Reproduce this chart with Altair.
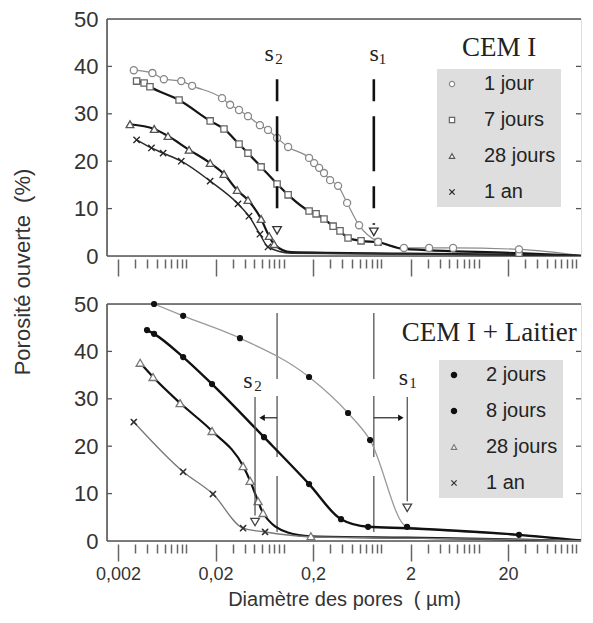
import altair as alt
import pandas as pd

# ---------------- axes ----------------
x_domain = [0.00154, 112]
y_domain = [0, 50]
major_ticks = [0.002, 0.02, 0.2, 2, 20]
major_labels = ["0,002", "0,02", "0,2", "2", "20"]
minor_ticks = [0.003, 0.004, 0.005, 0.006, 0.007, 0.008, 0.009, 0.01,
               0.03, 0.04, 0.05, 0.06, 0.07, 0.08, 0.09, 0.1,
               0.3, 0.4, 0.5, 0.6, 0.7, 0.8, 0.9, 1,
               3, 4, 5, 6, 7, 8, 9, 10,
               30, 40, 50, 60, 70, 80, 90, 100]
y_ticks = [0, 10, 20, 30, 40, 50]
inner_ticks = [10, 20, 30, 40]
x_title = "Diamètre des pores\u00a0 ( µm)"
y_title = "Porosité ouverte\u00a0 (%)"

# ---------------- CEM I (top panel) ----------------
top_names = ["1 jour", "7 jours", "28 jours", "1 an"]
t1j_d = [0.0029, 0.0045, 0.0059, 0.0089, 0.0115, 0.0233, 0.0282, 0.0348, 0.043, 0.057, 0.069,
         0.0855, 0.111, 0.182, 0.205, 0.231, 0.259, 0.299, 0.361, 0.447, 0.593, 0.929,
         1.71, 3.1, 5.46, 25.9]
t1j_p = [39.2, 38.6, 37.3, 36.9, 35.9, 33.3, 31.9, 30.8, 29.5, 27.6, 26.6,
         24.9, 23.0, 20.7, 19.6, 18.6, 17.5, 16.0, 14.8, 11.2, 6.5, 3.0,
         1.7, 1.7, 1.7, 1.4]
t1j_tail_d = [112]
t1j_tail_p = [0.1]
t7j_d = [0.0031, 0.0037, 0.00425, 0.00845, 0.0176, 0.0244, 0.0348, 0.043, 0.0586, 0.0855,
         0.111, 0.182, 0.215, 0.259, 0.321, 0.378, 0.457, 0.621, 0.929, 25.9]
t7j_p = [36.9, 36.5, 35.7, 32.9, 28.5, 26.8, 23.6, 21.7, 18.8, 15.2,
         12.9, 9.5, 8.9, 7.8, 6.3, 5.3, 3.8, 3.2, 2.9, 0.6]
t7j_tail_d = [1.71, 112]
t7j_tail_p = [1.5, 0.05]
t28_d = [0.00265, 0.0047, 0.0065, 0.0107, 0.0176, 0.0244, 0.0333, 0.043, 0.0586, 0.0708, 0.0796]
t28_p = [27.8, 26.8, 25.3, 22.4, 19.6, 17.3, 13.9, 11.8, 7.8, 4.2, 2.5]
t28_tail_d = [0.119, 1.71, 25.9, 112]
t28_tail_p = [0.8, 0.5, 0.3, 0.05]
t1a_d = [0.0031, 0.0044, 0.0058, 0.0089, 0.0176, 0.034, 0.044, 0.057, 0.069]
t1a_p = [24.5, 22.8, 21.7, 20.0, 15.8, 11.0, 8.4, 4.6, 1.9]
t1a_tail_d = [0.119, 1.71, 25.9, 112]
t1a_tail_p = [0.6, 0.4, 0.2, 0.05]

# ---------------- CEM I + Laitier (bottom panel) ----------------
bot_names = ["2 jours", "8 jours", "28 jours", "1 an"]
b2j_d = [0.00468, 0.0093, 0.0356, 0.182, 0.457, 0.769, 1.84]
b2j_p = [50.0, 47.5, 42.8, 34.6, 27.0, 21.3, 3.0]
b2j_tail_d = [25.9, 112]
b2j_tail_p = [1.3, 0.1]
b8j_d = [0.00396, 0.00468, 0.0093, 0.0184, 0.0628, 0.182, 0.387, 0.733, 25.9]
b8j_p = [44.5, 43.7, 38.8, 33.1, 21.9, 12.0, 4.6, 3.0, 1.3]
b8j_tail_d = [1.84, 112]
b8j_tail_p = [2.7, 0.1]
b28_d = [0.00337, 0.00457, 0.00865, 0.0184, 0.0383, 0.0452, 0.0546, 0.0614, 0.19]
b28_p = [37.6, 34.6, 29.1, 23.2, 15.8, 12.7, 8.4, 5.9, 1.0]
b28_tail_d = [0.11, 1.84, 25.9, 112]
b28_tail_p = [1.8, 0.7, 0.3, 0.05]
b1a_d = [0.0029, 0.0093, 0.0188, 0.0383, 0.0644]
b1a_p = [25.1, 14.6, 9.9, 2.7, 1.9]
b1a_tail_d = [0.182, 1.84, 25.9, 112]
b1a_tail_p = [0.9, 0.6, 0.3, 0.05]

# ---------------- annotations ----------------
ts_d = [0.0855, 0.84]          # top: dashed s2, s1
ts_top = [37.3, 37.3]
ts_end = [6.9, 6.6]
ts_tri = [5.4, 5.1]
bref_d = [0.0855, 0.84]        # bottom: former s2, s1 positions
bref_top = [48.1, 48.1]
bref_end = [0.6, 0.6]
bs_d = [0.0508, 1.85]          # bottom: shifted s2, s1
bs_top = [30.4, 30.4]
bs_end = [5.4, 8.4]
bs_tri = [4.0, 7.0]
arr_from = [0.0855, 0.84]      # bottom arrows
arr_to = [0.060, 1.59]
arr_p = [26.0, 26.0]
arr_shape = ["triangle-left", "triangle-right"]

top_s_letter_d = [0.0708, 0.845]
top_s_index_d = [0.0895, 1.03]
top_s_letter_p = [41.1, 41.1]
top_s_index_p = [40.5, 40.5]
top_s_index = ["2", "1"]
bot_s_letter_d = [0.043, 1.69]
bot_s_index_d = [0.0546, 2.12]
bot_s_letter_p = [32.3, 32.9]
bot_s_index_p = [31.6, 32.3]
bot_s_index = ["2", "1"]

top_title = "CEM I"
top_title_d, top_title_p = 16.2, 42.2
bot_title = "CEM I + Laitier"
bot_title_d, bot_title_p = 12.8, 42.2

# ---------------- styles ----------------
W, H = 474, 237
SANS = "Liberation Sans"
SERIF = "Liberation Serif"
CROSS = "M-1,-1L1,1M-1,1L1,-1"
FRAME = "#555"

top_line_color = ["#8a8a8a", "#151515", "#151515", "#2a2a2a"]
top_line_width = [1.2, 2.2, 2.2, 1.5]
top_shapes = ["circle", "square", "triangle-up", CROSS]
top_fill = ["white", "white", "white", "#222"]
top_stroke = ["#888", "#666", "#555", "#222"]
top_size = [50, 40, 60, 40]
top_base_size = 40

bot_line_color = ["#9a9a9a", "#111111", "#111111", "#777777"]
bot_line_width = [1.3, 2.4, 2.2, 1.3]
bot_shapes = ["circle", "circle", "triangle-up", CROSS]
bot_fill = ["#111", "#111", "white", "#333"]
bot_stroke = ["#111", "#111", "#777", "#333"]
bot_size = [24, 24, 65, 40]
bot_base_size = 24


def build(names, marks, tails):
    pts, lines = [], []
    for n, (d, p), (td, tp) in zip(names, marks, tails):
        for a, b in zip(d, p):
            pts.append({"series": n, "d": a, "p": b})
            lines.append({"series": n, "d": a, "p": b})
        for a, b in zip(td, tp):
            lines.append({"series": n, "d": a, "p": b})
    pts = pd.DataFrame(pts)
    lines = pd.DataFrame(lines).sort_values(["series", "d"])
    return pts, lines


top_pts, top_lines = build(
    top_names,
    [(t1j_d, t1j_p), (t7j_d, t7j_p), (t28_d, t28_p), (t1a_d, t1a_p)],
    [(t1j_tail_d, t1j_tail_p), (t7j_tail_d, t7j_tail_p), (t28_tail_d, t28_tail_p), (t1a_tail_d, t1a_tail_p)],
)
bot_pts, bot_lines = build(
    bot_names,
    [(b2j_d, b2j_p), (b8j_d, b8j_p), (b28_d, b28_p), (b1a_d, b1a_p)],
    [(b2j_tail_d, b2j_tail_p), (b8j_tail_d, b8j_tail_p), (b28_tail_d, b28_tail_p), (b1a_tail_d, b1a_tail_p)],
)

major_test = "indexof([" + ",".join(str(v) for v in major_ticks) + "], datum.value) >= 0"
label_expr = " : ".join(f"datum.value == {v} ? '{l}'" for v, l in zip(major_ticks, major_labels)) + " : ''"


def X(field, show_labels):
    kw = dict(values=major_ticks + minor_ticks, grid=False, domain=False, offset=3,
              tickColor="#666", tickWidth=1.5, labelFlush=False,
              tickSize={"condition": {"test": major_test, "value": 17}, "value": 9})
    if show_labels:
        kw.update(labelExpr=label_expr, labelFontSize=18, labelColor="#333", labelFont=SANS,
                  labelPadding=4, title=x_title, titleFontSize=20, titleFont=SANS,
                  titleColor="#333", titleFontWeight="normal", titlePadding=6)
    else:
        kw.update(labels=False, title=None)
    return alt.X(field, type="quantitative", scale=alt.Scale(type="log", domain=x_domain),
                 axis=alt.Axis(**kw))


Y_AXIS = alt.Axis(values=y_ticks, grid=False, domain=False, ticks=False, tickSize=0,
                  labelFontSize=22, labelColor="#333", labelFont=SANS, labelPadding=9, title=None)


def Y(field):
    return alt.Y(field, type="quantitative", scale=alt.Scale(domain=y_domain), axis=Y_AXIS)


def panel(names, pts, lines, lcol, lwid, shapes, fills, strokes, sizes, base_size, legx, legy, labels):
    layers = []
    one = pd.DataFrame({"k": [0]})
    # frame: left, top and bottom sides (right side lies beyond the picture)
    layers.append(alt.Chart(one).mark_rule(color=FRAME, strokeWidth=1.6).encode(
        x=alt.value(0), x2=alt.value(W), y=alt.value(0)))
    layers.append(alt.Chart(one).mark_rule(color=FRAME, strokeWidth=1.6).encode(
        x=alt.value(0), x2=alt.value(W), y=alt.value(H)))
    layers.append(alt.Chart(one).mark_rule(color=FRAME, strokeWidth=1.6).encode(
        x=alt.value(0), y=alt.value(0), y2=alt.value(H)))
    tdf = pd.DataFrame({"p": inner_ticks})
    layers.append(alt.Chart(tdf).mark_rule(color="#555", strokeWidth=1.3).encode(
        y=Y("p"), x=alt.value(0), x2=alt.value(5)))
    layers.append(alt.Chart(tdf).mark_rule(color="#555", strokeWidth=1.3).encode(
        y=Y("p"), x=alt.value(W - 5), x2=alt.value(W)))
    for n, c, w in zip(names, lcol, lwid):
        layers.append(alt.Chart(lines[lines.series == n]).mark_line(
            interpolate="monotone", color=c, strokeWidth=w, clip=True).encode(x=X("d", labels), y=Y("p")))
    leg = alt.Legend(title=None, orient="none", legendX=legx, legendY=legy, fillColor="#dedede",
                     padding=5, labelFontSize=20, labelFont=SANS, labelColor="#222",
                     symbolSize=28, symbolStrokeWidth=1.2, rowPadding=16, labelOffset=22,
                     labelExpr="datum.label + '\u00a0\u00a0'")
    layers.append(alt.Chart(pts).mark_point(filled=True, strokeWidth=1.3, opacity=1, size=base_size).encode(
        x=X("d", labels), y=Y("p"),
        shape=alt.Shape("series:N", scale=alt.Scale(domain=names, range=shapes), legend=leg),
        fill=alt.Fill("series:N", scale=alt.Scale(domain=names, range=fills), legend=leg),
        stroke=alt.Stroke("series:N", scale=alt.Scale(domain=names, range=strokes), legend=leg),
    ))
    for n, sh, f, s, sz in zip(names, shapes, fills, strokes, sizes):
        if sz != base_size:
            layers.append(alt.Chart(pts[pts.series == n]).mark_point(
                shape=sh, filled=True, fill=f, stroke=s, strokeWidth=1.3, size=sz, opacity=1).encode(
                x=X("d", labels), y=Y("p")))
    return layers


def text_layer(df, labels, **style):
    return alt.Chart(df).mark_text(baseline="alphabetic", color="#222", **style).encode(
        x=X("d", labels), y=Y("p"), text="t:N")


# ---------- top panel ----------
top_layers = panel(top_names, top_pts, top_lines, top_line_color, top_line_width,
                   top_shapes, top_fill, top_stroke, top_size, top_base_size, 330, 50, False)
ts_df = pd.DataFrame({"d": ts_d, "p0": ts_top, "p1": ts_end, "pt": ts_tri})
top_layers.append(alt.Chart(ts_df).mark_rule(color="#111", strokeWidth=2.6,
                                             strokeDash=[22, 15, 55, 15]).encode(
    x=X("d", False), y=Y("p0"), y2="p1"))
top_layers.append(alt.Chart(ts_df).mark_point(shape="triangle-down", filled=True, fill="white",
                                              stroke="#333", strokeWidth=1.3, size=75, opacity=1).encode(
    x=X("d", False), y=Y("pt")))
top_layers.append(text_layer(pd.DataFrame({"d": top_s_letter_d, "p": top_s_letter_p, "t": ["s", "s"]}),
                             False, font=SERIF, fontSize=24))
top_layers.append(text_layer(pd.DataFrame({"d": top_s_index_d, "p": top_s_index_p, "t": top_s_index}),
                             False, font=SERIF, fontSize=15))
top_layers.append(text_layer(pd.DataFrame({"d": [top_title_d], "p": [top_title_p], "t": [top_title]}),
                             False, font=SERIF, fontSize=27))
top_layers.append(alt.Chart(pd.DataFrame({"t": [y_title]})).mark_text(
    font=SANS, fontSize=22, color="#333", angle=270, baseline="middle", align="center").encode(
    x=alt.value(-84), y=alt.value(253), text="t:N"))
top = alt.layer(*top_layers).properties(width=W, height=H)

# ---------- bottom panel ----------
bot_layers = panel(bot_names, bot_pts, bot_lines, bot_line_color, bot_line_width,
                   bot_shapes, bot_fill, bot_stroke, bot_size, bot_base_size, 332, 56, True)
bref_df = pd.DataFrame({"d": bref_d, "p0": bref_top, "p1": bref_end})
bot_layers.insert(5, alt.Chart(bref_df).mark_rule(color="#555", strokeWidth=1.3,
                                                  strokeDash=[66, 17, 61, 19, 56, 10]).encode(
    x=X("d", True), y=Y("p0"), y2="p1"))
bs_df = pd.DataFrame({"d": bs_d, "p0": bs_top, "p1": bs_end, "pt": bs_tri})
bot_layers.append(alt.Chart(bs_df).mark_rule(color="#555", strokeWidth=1.3).encode(
    x=X("d", True), y=Y("p0"), y2="p1"))
bot_layers.append(alt.Chart(bs_df).mark_point(shape="triangle-down", filled=True, fill="white",
                                              stroke="#444", strokeWidth=1.3, size=75, opacity=1).encode(
    x=X("d", True), y=Y("pt")))
arr_df = pd.DataFrame({"d0": arr_from, "d1": arr_to, "p": arr_p, "shape": arr_shape})
bot_layers.append(alt.Chart(arr_df).mark_rule(color="#333", strokeWidth=1.3).encode(
    x=X("d0", True), x2="d1", y=Y("p")))
for shp in arr_shape:
    bot_layers.append(alt.Chart(arr_df[arr_df["shape"] == shp]).mark_point(
        shape=shp, filled=True, color="#111", size=40, opacity=1).encode(x=X("d1", True), y=Y("p")))
bot_layers.append(text_layer(pd.DataFrame({"d": bot_s_letter_d, "p": bot_s_letter_p, "t": ["s", "s"]}),
                             True, font=SERIF, fontSize=24))
bot_layers.append(text_layer(pd.DataFrame({"d": bot_s_index_d, "p": bot_s_index_p, "t": bot_s_index}),
                             True, font=SERIF, fontSize=15))
bot_layers.append(text_layer(pd.DataFrame({"d": [bot_title_d], "p": [bot_title_p], "t": [bot_title]}),
                             True, font=SERIF, fontSize=27))
bot = alt.layer(*bot_layers).properties(width=W, height=H)

chart = alt.vconcat(top, bot, spacing=48, bounds="flush").resolve_scale(
    x="independent", y="independent", shape="independent", fill="independent", stroke="independent"
).resolve_axis(x="independent", y="independent").resolve_legend(
    shape="independent", fill="independent", stroke="independent"
).configure_view(strokeWidth=0).configure(
    padding={"left": 3, "top": -1, "right": 0, "bottom": 0}, font=SANS, background="white")

chart.save("out.html", embed_options={"renderer": "svg", "actions": False})
